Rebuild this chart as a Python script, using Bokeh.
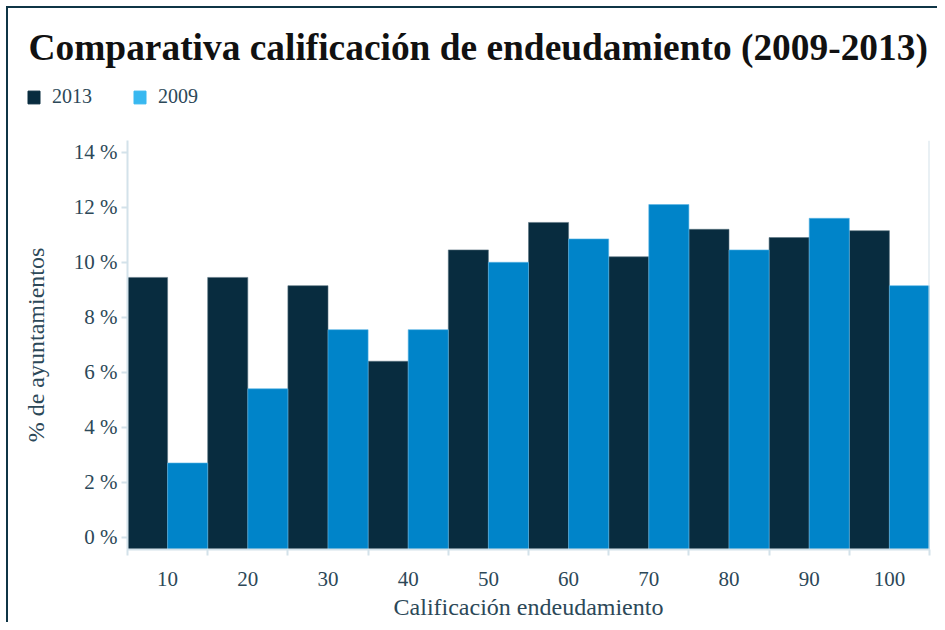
import numpy as np
from bokeh.plotting import figure
from bokeh.layouts import column, row
from bokeh.models import (ColumnDataSource, FixedTicker, PrintfTickFormatter, Label,
                          Legend, LegendItem, Span, Range1d)
from bokeh.transform import dodge
from bokeh.embed import file_html
from bokeh.resources import INLINE

# ---- data ----
categories = ["10", "20", "30", "40", "50", "60", "70", "80", "90", "100"]
values_2013 = [9.45, 9.45, 9.15, 6.4, 10.45, 11.45, 10.2, 11.2, 10.9, 11.15]
values_2009 = [2.7, 5.4, 7.55, 7.55, 10.0, 10.85, 12.1, 10.45, 11.6, 9.15]
y_ticks = [0, 2, 4, 6, 8, 10, 12, 14]
series_names = ["2013", "2009"]

title_text = "Comparativa calificación de endeudamiento (2009-2013)"
x_label = "Calificación endeudamiento"
y_label = "% de ayuntamientos"

DARK = "#082c3f"
BLUE = "#0084c9"
LEGEND_BLUE = "#38b8f0"
FRAME = "#0f3546"
AXIS = "#d3e2ea"
TEXT = "#2c4858"
SERIF = "Liberation Serif"

W = 929

# ---- header (title + legend) ----
HH = 124
hdr = figure(width=W, height=HH, output_backend="svg", toolbar_location=None,
             x_axis_type=None, y_axis_type=None,
             min_border_left=0, min_border_right=0, min_border_top=0, min_border_bottom=0,
             x_range=Range1d(0, W), y_range=Range1d(0, HH))
hdr.outline_line_color = None
hdr.xgrid.visible = False
hdr.ygrid.visible = False
hdr.add_layout(Label(x=20, y=85, text=title_text, text_font=SERIF, text_font_style="bold",
                     text_font_size="37.4px", text_color="#111111", text_baseline="middle"))
d1 = hdr.vbar(x=[-10], top=[0], width=0, fill_color=DARK, line_color=DARK)
d2 = hdr.vbar(x=[-10], top=[0], width=0, fill_color=LEGEND_BLUE, line_color=LEGEND_BLUE)
legend = Legend(items=[LegendItem(label=series_names[0], renderers=[d1]),
                       LegendItem(label=series_names[1], renderers=[d2])],
                location=(18, 24), orientation="horizontal",
                glyph_width=15, glyph_height=16, label_height=16, label_standoff=11,
                spacing=40, padding=0, margin=0, border_line_color=None,
                background_fill_alpha=0, label_text_font=SERIF,
                label_text_font_size="20px", label_text_color=TEXT)
hdr.add_layout(legend, "center")

# ---- main chart ----
pos = np.arange(1, len(categories) + 1)
src = ColumnDataSource(dict(x=pos, a=values_2013, b=values_2009))

Y0 = -0.447
p = figure(width=W, height=490, output_backend="svg", toolbar_location=None,
           x_range=Range1d(0.5, len(categories) + 0.5), y_range=Range1d(Y0, 14.43),
           min_border_left=119, min_border_right=8, min_border_top=8,
           min_border_bottom=73)
p.outline_line_color = None
p.xgrid.grid_line_color = None
p.ygrid.grid_line_color = None

p.vbar(x=dodge("x", -0.25), top="a", bottom=Y0, width=0.5, source=src,
       fill_color=DARK, line_color="#5a7482", line_width=0.6)
p.vbar(x=dodge("x", 0.25), top="b", bottom=Y0, width=0.5, source=src,
       fill_color=BLUE, line_color="#5ab6e6", line_width=0.6)

p.add_layout(Span(location=len(categories) + 0.5, dimension="height",
                  line_color=AXIS, line_width=2))

# x axis
xa = p.xaxis[0]
xa.ticker = FixedTicker(ticks=list(pos), minor_ticks=[i + 0.5 for i in range(len(categories) + 1)])
xa.major_label_overrides = {int(i): c for i, c in zip(pos, categories)}
xa.major_tick_line_color = None
xa.major_tick_out = 0
xa.major_tick_in = 0
xa.minor_tick_line_color = AXIS
xa.minor_tick_out = 6
xa.minor_tick_in = 0
xa.minor_tick_line_width = 2
xa.axis_line_color = AXIS
xa.axis_line_width = 2
xa.major_label_standoff = 16
xa.major_label_text_font = SERIF
xa.major_label_text_font_size = "21px"
xa.major_label_text_color = TEXT
xa.axis_label = x_label
xa.axis_label_text_font = SERIF
xa.axis_label_text_font_style = "normal"
xa.axis_label_text_font_size = "24px"
xa.axis_label_text_color = TEXT
xa.axis_label_standoff = 5

# y axis
ya = p.yaxis[0]
ya.ticker = FixedTicker(ticks=y_ticks)
ya.formatter = PrintfTickFormatter(format="%d %%")
ya.major_tick_line_color = AXIS
ya.major_tick_line_width = 2
ya.major_tick_out = 6
ya.major_tick_in = 0
ya.minor_tick_line_color = None
ya.axis_line_color = AXIS
ya.axis_line_width = 2
ya.major_label_standoff = 4
ya.major_label_text_font = SERIF
ya.major_label_text_font_size = "21px"
ya.major_label_text_color = TEXT
ya.axis_label = y_label
ya.axis_label_text_font = SERIF
ya.axis_label_text_font_style = "normal"
ya.axis_label_text_font_size = "24px"
ya.axis_label_text_color = TEXT
ya.axis_label_standoff = 22

layout = column(row(hdr), p, spacing=0)
layout.styles = {"border-left": "2px solid " + FRAME, "border-top": "2px solid " + FRAME,
                 "margin-left": "6px", "margin-top": "6px"}

open("out.html", "w").write(file_html(layout, INLINE))
